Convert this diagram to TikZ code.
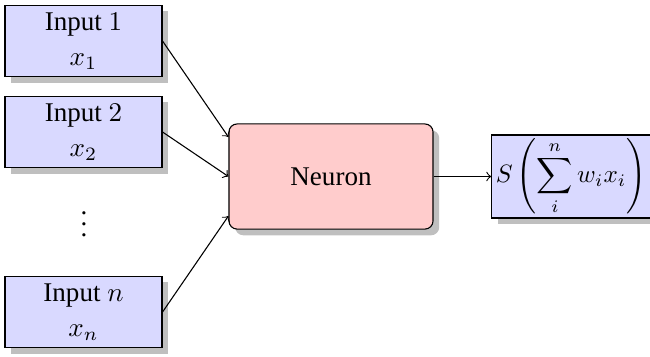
\documentclass[tikz,border=0pt]{standalone}
\usepackage{fontspec}
\setmainfont{Liberation Serif}
\usetikzlibrary{shadows,calc}
\begin{document}
\begin{tikzpicture}[x=0.37pt,y=-0.37pt,
  inbox/.style={draw,fill=blue!15,drop shadow,align=center,
    minimum width=58.1pt,minimum height=26.6pt,inner sep=2pt,font=\normalsize},
  neuronbox/.style={draw,fill=red!20,rounded corners=3pt,drop shadow,
    minimum width=75.5pt,minimum height=38.9pt},
  outbox/.style={draw,fill=blue!15,drop shadow,
    minimum width=57.4pt,minimum height=30.7pt,inner xsep=1.5pt,inner ysep=0pt},
  link/.style={->,line width=0.4pt}]
  \useasboundingbox (0,0) rectangle (650,356);
  \node[inbox] (in1) at (83.5,41) {Input $1$\\[1pt] $x_1$};
  \node[inbox] (in2) at (83.5,132) {Input $2$\\[1pt] $x_2$};
  \node (dots) at (84,216) {$\vdots$};
  \node[inbox] (inn) at (83.5,312) {Input $n$\\[1pt] $x_n$};
  \node[neuronbox] (neuron) at (331,176.5) {Neuron};
  \node[outbox] (out) at (571,176.5)
    {\scalebox{0.93}{$\displaystyle S\left(\sum_{i}^{n} w_i x_i\right)$}};
  \draw[link] (in1.east) -- ($(neuron.west)+(0,-39.5)$);
  \draw[link] (in2.east) -- (neuron.west);
  \draw[link] (inn.east) -- ($(neuron.west)+(0,39.5)$);
  \draw[link] (neuron.east) -- (out.west);
\end{tikzpicture}
\end{document}
